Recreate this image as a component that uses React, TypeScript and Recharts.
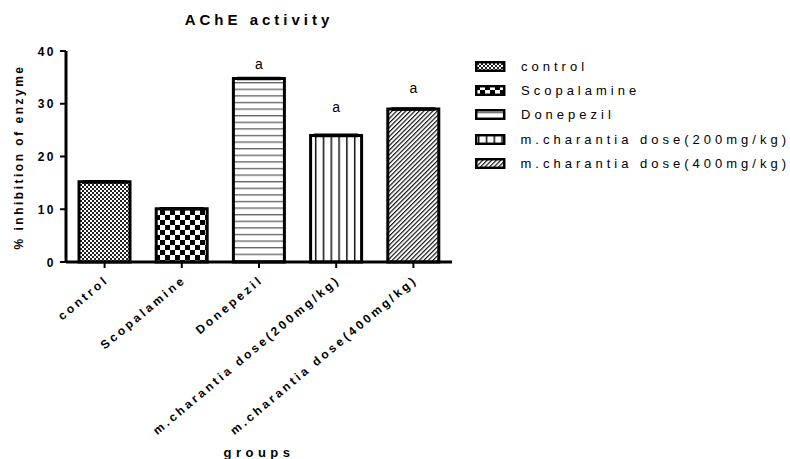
import { BarChart, Bar, XAxis, YAxis, Cell, ErrorBar, LabelList } from "recharts";

const FONT = '"Liberation Sans", Arial, sans-serif';

const groups = [
  "control",
  "Scopalamine",
  "Donepezil",
  "m.charantia dose(200mg/kg)",
  "m.charantia dose(400mg/kg)",
];
const inhibition = [15.2, 10.1, 34.8, 24.0, 29.0];
const sem = [0.2, 0.2, 0.2, 0.2, 0.2];
const marks = ["", "", "a", "a", "a"];
const yTicks = [0, 10, 20, 30, 40];

const patternIds = ["pControl", "pScop", "pDone", "pM200", "pM400"];
// how far above the bar top each significance letter sits (px)
const markLift = [0, 0, 14, 28, 21];

const data = groups.map((g, i) => ({
  group: g,
  value: inhibition[i],
  err: sem[i],
  mark: marks[i],
}));

function Patterns() {
  return (
    <svg width={0} height={0} style={{ position: "absolute" }}>
      <defs>
        <pattern id="pControl" width="4" height="4" patternUnits="userSpaceOnUse">
          <rect width="4" height="4" fill="#fff" />
          <rect width="2" height="2" fill="#222" />
          <rect x="2" y="2" width="2" height="2" fill="#222" />
        </pattern>
        <pattern id="pScop" width="10" height="10" patternUnits="userSpaceOnUse">
          <rect width="10" height="10" fill="#fff" />
          <rect width="5" height="5" fill="#000" />
          <rect x="5" y="5" width="5" height="5" fill="#000" />
        </pattern>
        <pattern id="pDone" width="8" height="6.6" patternUnits="userSpaceOnUse">
          <rect width="8" height="6.6" fill="#fff" />
          <rect y="3" width="8" height="1.1" fill="#444" />
        </pattern>
        <pattern id="pM200" width="7.8" height="8" patternUnits="userSpaceOnUse">
          <rect width="7.8" height="8" fill="#fff" />
          <rect x="3" width="1.4" height="8" fill="#000" />
        </pattern>
        <pattern
          id="pM400"
          width="3.2"
          height="4"
          patternUnits="userSpaceOnUse"
          patternTransform="rotate(45)"
        >
          <rect width="3.2" height="4" fill="#fff" />
          <line x1="0.6" y1="0" x2="0.6" y2="4" stroke="#000" strokeWidth="1.1" />
        </pattern>
      </defs>
    </svg>
  );
}

function GroupTick(props: any) {
  const { x, y, payload } = props;
  return (
    <g transform={`translate(${x + 5},${y + 11}) rotate(-40)`}>
      <text
        textAnchor="end"
        fontSize={12}
        fontWeight="bold"
        letterSpacing={3}
        fontFamily={FONT}
        fill="#000"
      >
        {payload.value}
      </text>
    </g>
  );
}

function ValueTick(props: any) {
  const { x, y, payload } = props;
  return (
    <text
      x={x + 2}
      y={y}
      dy={4.5}
      textAnchor="end"
      fontSize={12}
      fontWeight="bold"
      letterSpacing={2.5}
      fontFamily={FONT}
      fill="#000"
    >
      {payload.value}
    </text>
  );
}

function MarkLabel(props: any) {
  const { x, y, width, value, index } = props;
  if (!value) return null;
  return (
    <text
      x={x + width / 2}
      y={y - markLift[index] + 5}
      textAnchor="middle"
      fontSize={14}
      fontFamily={FONT}
      fill="#000"
    >
      {value}
    </text>
  );
}

function GroupLegend() {
  return (
    <div style={{ position: "absolute", left: 475, top: 54, width: 315, fontFamily: FONT }}>
      {groups.map((g, i) => (
        <div
          key={g}
          style={{ display: "flex", alignItems: "center", height: 24.4, whiteSpace: "nowrap" }}
        >
          <svg width={31} height={11} style={{ display: "block" }}>
            <rect
              x={1.2}
              y={1.2}
              width={28}
              height={8.6}
              fill={`url(#${patternIds[i]})`}
              stroke="#000"
              strokeWidth={2.5}
            />
          </svg>
          <span style={{ marginLeft: 15, fontSize: 13, letterSpacing: 4, color: "#000" }}>
            {g}
          </span>
        </div>
      ))}
    </div>
  );
}

export default function App() {
  return (
    <div
      style={{
        position: "absolute",
        left: 0,
        top: 0,
        width: 790,
        height: 459,
        background: "#fff",
        overflow: "hidden",
      }}
    >
      <Patterns />
      <BarChart
        width={790}
        height={459}
        data={data}
        margin={{ top: 51, right: 338, left: 0, bottom: 0 }}
      >
        <XAxis
          dataKey="group"
          height={197}
          interval={0}
          tick={<GroupTick />}
          tickSize={6}
          axisLine={{ stroke: "#000", strokeWidth: 3 }}
          tickLine={{ stroke: "#000", strokeWidth: 2 }}
        />
        <YAxis
          width={66}
          domain={[0, 40]}
          ticks={yTicks}
          interval={0}
          tick={<ValueTick />}
          tickSize={6}
          tickMargin={6}
          axisLine={{ stroke: "#000", strokeWidth: 3 }}
          tickLine={{ stroke: "#000", strokeWidth: 2 }}
        />
        <Bar
          dataKey="value"
          barSize={51}
          stroke="#000"
          strokeWidth={3}
          isAnimationActive={false}
        >
          {data.map((d, i) => (
            <Cell key={d.group} fill={`url(#${patternIds[i]})`} />
          ))}
          <ErrorBar dataKey="err" width={22} stroke="#000" strokeWidth={1.5} />
          <LabelList dataKey="mark" content={<MarkLabel />} />
        </Bar>
      </BarChart>
      <GroupLegend />
      <svg
        width={790}
        height={459}
        style={{ position: "absolute", left: 0, top: 0, pointerEvents: "none" }}
      >
        <text
          x={259}
          y={25}
          textAnchor="middle"
          fontSize={15}
          fontWeight="bold"
          letterSpacing={4}
          fontFamily={FONT}
        >
          AChE activity
        </text>
        <text
          transform="translate(22.5,157) rotate(-90)"
          textAnchor="middle"
          fontSize={12}
          fontWeight="bold"
          letterSpacing={2.5}
          fontFamily={FONT}
        >
          % inhibition of enzyme
        </text>
        <text
          x={259}
          y={457}
          textAnchor="middle"
          fontSize={13}
          fontWeight="bold"
          letterSpacing={4.5}
          fontFamily={FONT}
        >
          groups
        </text>
      </svg>
    </div>
  );
}
